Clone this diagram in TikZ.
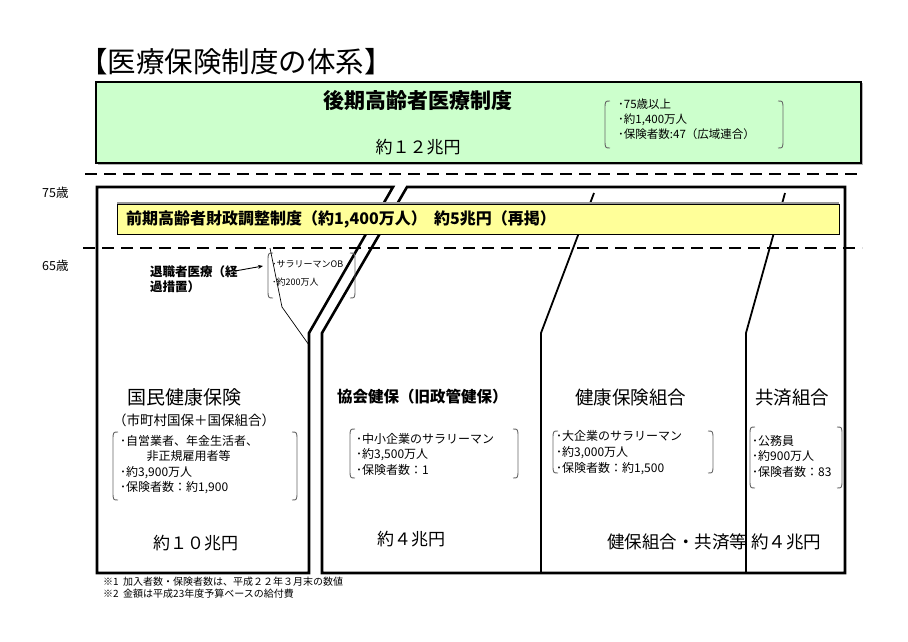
\documentclass[tikz,border=0pt]{standalone}
\usepackage{fontspec}
\usetikzlibrary{arrows.meta}
\setmainfont{Noto Sans CJK JP}
\newcommand\myfs[1]{\fontsize{#1}{#1}\selectfont}
\definecolor{lgreen}{HTML}{CCFFCC}
\definecolor{lyellow}{HTML}{FFFF99}
\newcommand\mybrackets[4]{%
  \draw[brk] ({#1+5},#2) .. controls (#1,#2) .. (#1,{#2+9}) -- (#1,{#4-9}) .. controls (#1,#4) .. ({#1+5},#4);
  \draw[brk] ({#3-5},#2) .. controls (#3,#2) .. (#3,{#2+9}) -- (#3,{#4-9}) .. controls (#3,#4) .. ({#3-5},#4);}
\begin{document}
\begin{tikzpicture}[x=1pt,y=-1pt,
  txt/.style={inner sep=0pt, anchor=west},
  frame/.style={line width=2.6pt, line join=miter},
  divl/.style={line width=1.8pt},
  dashln/.style={line width=1.8pt, dash pattern=on 12pt off 7pt},
  brk/.style={draw=black!60, line width=0.9pt},
  blist/.style={inner sep=0pt, anchor=north west, align=left}]
\useasboundingbox (0,0) rectangle (908,642);
\fill[white] (0,0) rectangle (908,642);

% title
\node[txt] (title) at (79,62) {\myfs{28.5}【医療保険制度の体系】};

% green box
\fill[black!30] (97.5,83.5) rectangle (862.5,164.5);
\draw[fill=lgreen, line width=1.6pt] (96,82) rectangle (861,163);
\node[anchor=center, inner sep=0pt] (kouki) at (418,101) {\myfs{21}\bfseries 後期高齢者医療制度};
\node[anchor=center, inner sep=0pt] (kouki12) at (418,147) {\myfs{17}約１２兆円};
\mybrackets{605}{101}{783}{148}
\node[blist, font=\fontsize{11.5}{15}\selectfont] (koukil) at (618,99) {･75歳以上\\･約1,400万人\\･保険者数:47（広域連合）};

% age labels
\node[txt] (a75) at (42,193) {\myfs{12.5}75歳};
\node[txt] (a65) at (42,266) {\myfs{12.5}65歳};

% frames
\draw[frame] (309,333) -- (309,573) -- (97,573) -- (97,187) -- (393,187) -- cycle;
\draw[frame] (407,187) -- (845,187) -- (845,573) -- (322,573) -- (322,333) -- cycle;
% dividers
\draw[divl] (594,193) -- (541,333) -- (541,573);
\draw[divl] (785,193) -- (746,333) -- (746,573);

% yellow bar
\fill[black!40] (117,202) rectangle (839,233);
\draw[fill=lyellow, line width=0.8pt] (117,204) rectangle (839,234);
\node[txt] (zenki) at (126,219.5) {\myfs{16}\bfseries 前期高齢者財政調整制度（約1,400万人）\ \ 約5兆円（再掲）};

% dashed lines
\draw[dashln] (85,174) -- (862,174);
\draw[dashln] (83,248) -- (862,248);

% retiree
\node[blist, font=\fontsize{12.5}{15}\selectfont\bfseries] (ret) at (150,266) {退職者医療（経\\過措置）};
\coordinate (retarr) at (263,266);
\draw[-{Stealth[length=5pt,width=4pt]}, line width=0.9pt] (235,271) -- (retarr);
\mybrackets{268}{253}{355}{298}
\node[txt] (ob) at (272,264) {\myfs{9}･サラリーマンOB};
\node[txt] (ob2) at (272,282) {\myfs{9}･約200万人};
\draw[line width=0.7pt] (270,248) -- (282,307) -- (309,345);

% kokuho
\node[txt] (kokuho) at (127,397) {\myfs{19}国民健康保険};
\node[txt] (kokuho2) at (113,420) {\myfs{13.5}（市町村国保＋国保組合）};
\mybrackets{113}{432}{297}{500}
\node[blist, font=\fontsize{12}{15.5}\selectfont] (kokuhol) at (120,435) {･自営業者、年金生活者、\\\hspace{2.2em}非正規雇用者等\\･約3,900万人\\･保険者数：約1,900};
\node[txt] (kokuho10) at (153,543) {\myfs{17}約１０兆円};

% kyokai
\node[txt] (kyokai) at (337,397) {\myfs{15.5}\bfseries 協会健保（旧政管健保）};
\mybrackets{350}{429}{518}{478}
\node[blist, font=\fontsize{12}{15.5}\selectfont] (kyokail) at (356,433) {･中小企業のサラリーマン\\･約3,500万人\\･保険者数：1};
\node[txt] (kyokai4) at (377,539) {\myfs{17}約４兆円};

% kenpo
\node[txt] (kenpo) at (575,398) {\myfs{18.5}健康保険組合};
\mybrackets{553}{431}{713}{473}
\node[blist, font=\fontsize{12}{16}\selectfont] (kenpol) at (556,430) {･大企業のサラリーマン\\･約3,000万人\\･保険者数：約1,500};

% kyosai
\node[txt] (kyosai) at (755,398) {\myfs{18.5}共済組合};
\mybrackets{750}{427}{842}{488}
\node[blist, font=\fontsize{12}{15.5}\selectfont] (kyosail) at (752,435) {･公務員\\･約900万人\\･保険者数：83};

\node[txt] (kenpo4) at (607,542) {\myfs{17.5}健保組合・共済等 約４兆円};

% footnotes
\node[txt] (fn1) at (103,582) {\myfs{10}※1\ \ 加入者数・保険者数は、平成２２年３月末の数値};
\node[txt] (fn2) at (103,594) {\myfs{10}※2\ \ 金額は平成23年度予算ベースの給付費};
\end{tikzpicture}
\end{document}
